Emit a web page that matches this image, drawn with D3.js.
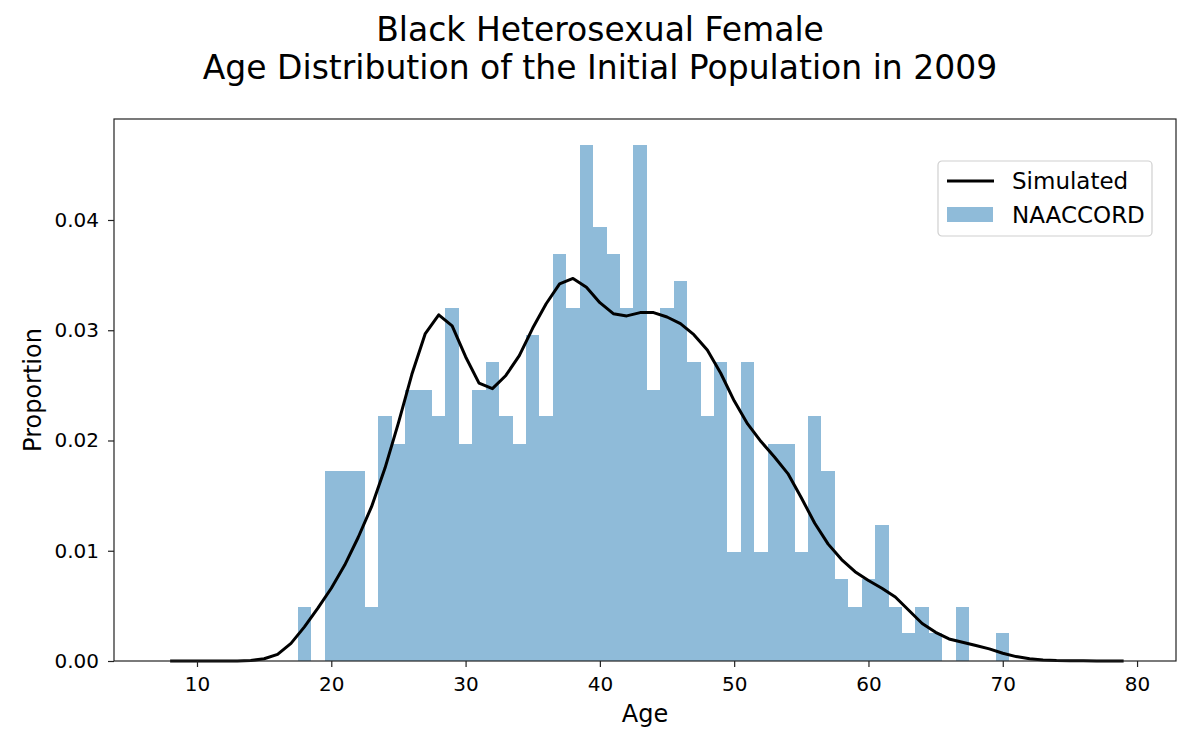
<!DOCTYPE html>
<html>
<head>
<meta charset="utf-8">
<title>Age Distribution</title>
<script src="https://cdn.jsdelivr.net/npm/d3@7"></script>
<style>
  body { margin: 0; background: #fff; }
  text { font-family: "DejaVu Sans", sans-serif; }
</style>
</head>
<body>
<script>
// NAACCORD histogram: bin centres (age) and proportion per 1-year bin
var binAges = [18, 19, 20, 21, 22, 23, 24, 25, 26, 27, 28, 29, 30, 31, 32, 33, 34, 35, 36, 37, 38, 39,
               40, 41, 42, 43, 44, 45, 46, 47, 48, 49, 50, 51, 52, 53, 54, 55, 56, 57, 58, 59,
               60, 61, 62, 63, 64, 65, 66, 67, 68, 69, 70];
var binProps = [0.0049, 0, 0.0172, 0.0172, 0.0172, 0.0049, 0.0222, 0.0197, 0.0246, 0.0246, 0.0222, 0.0320,
                0.0197, 0.0246, 0.0271, 0.0222, 0.0197, 0.0296, 0.0222, 0.0369, 0.0320, 0.0468,
                0.0394, 0.0369, 0.0320, 0.0468, 0.0246, 0.0320, 0.0345, 0.0271, 0.0222, 0.0271,
                0.0099, 0.0271, 0.0099, 0.0197, 0.0197, 0.0099, 0.0222, 0.0172, 0.0074, 0.0049,
                0.0074, 0.0123, 0.0049, 0.0025, 0.0049, 0.0025, 0, 0.0049, 0, 0, 0.0025];

// Simulated curve
var simAges = [8, 9, 10, 11, 12, 13, 14, 15, 16, 17, 18, 19, 20, 21, 22, 23, 24, 25, 26, 27, 28, 29,
               30, 31, 32, 33, 34, 35, 36, 37, 38, 39, 40, 41, 42, 43, 44, 45, 46, 47, 48, 49,
               50, 51, 52, 53, 54, 55, 56, 57, 58, 59, 60, 61, 62, 63, 64, 65, 66, 67, 68, 69,
               70, 71, 72, 73, 74, 75, 76, 77, 78, 79];
var simProps = [0, 0, 0, 0, 0, 0.00001, 0.00004, 0.0002, 0.0006, 0.0016, 0.0031, 0.0048, 0.0066, 0.0087,
                0.0112, 0.0140, 0.0175, 0.0216, 0.0260, 0.0297, 0.0314, 0.0304, 0.0276, 0.0252, 0.0247,
                0.0259, 0.0277, 0.0302, 0.0324, 0.0342, 0.0347, 0.0339, 0.0325, 0.0315, 0.0313,
                0.0316, 0.0316, 0.0312, 0.0306, 0.0296, 0.0282, 0.0261, 0.0236, 0.0215, 0.0199,
                0.0185, 0.0170, 0.0148, 0.0125, 0.0106, 0.0092, 0.0081, 0.0073, 0.0066, 0.0058,
                0.0046, 0.0034, 0.0026, 0.0020, 0.0017, 0.0014, 0.0011, 0.0007, 0.0004, 0.0002,
                0.0001, 0.00005, 0.00003, 0.00002, 0.00001, 0, 0];

var xTicks = [10, 20, 30, 40, 50, 60, 70, 80];
var yTicks = [0, 0.01, 0.02, 0.03, 0.04];

var W = 1200, H = 750;
var pLeft = 114, pRight = 1176, pTop = 119, pBottom = 661;

var svg = d3.select("body").append("svg")
    .attr("width", W)
    .attr("height", H);

var x = d3.scaleLinear().domain([3.82, 82.9]).range([pLeft, pRight]);
var y = d3.scaleLinear().domain([0, 0.04916]).range([pBottom, pTop]);

// bars
svg.selectAll(".bar")
    .data(binAges.map(function(a, i) { return {age: a, v: binProps[i]}; }))
    .enter().append("rect")
    .attr("class", "bar")
    .attr("x", function(d) { return x(d.age - 0.5); })
    .attr("width", function(d) { return x(d.age + 0.5) - x(d.age - 0.5); })
    .attr("y", function(d) { return y(d.v); })
    .attr("height", function(d) { return pBottom - y(d.v); })
    .attr("fill", "#1f77b4")
    .attr("fill-opacity", 0.5)
    .attr("shape-rendering", "crispEdges");

// simulated line
var line = d3.line()
    .x(function(d) { return x(d[0]); })
    .y(function(d) { return y(d[1]); });

svg.append("path")
    .datum(simAges.map(function(a, i) { return [a, simProps[i]]; }))
    .attr("d", line)
    .attr("fill", "none")
    .attr("stroke", "#000")
    .attr("stroke-width", 3)
    .attr("stroke-linejoin", "round");

// axes
var xAxis = d3.axisBottom(x).tickValues(xTicks).tickSize(6).tickPadding(10);
var yAxis = d3.axisLeft(y).tickValues(yTicks).tickSize(6).tickPadding(9)
    .tickFormat(d3.format(".2f"));

var gx = svg.append("g").attr("transform", "translate(0," + pBottom + ")").call(xAxis);
var gy = svg.append("g").attr("transform", "translate(" + pLeft + ",0)").call(yAxis);
[gx, gy].forEach(function(g) {
  g.select(".domain").remove();
  g.selectAll("line").attr("stroke", "#222").attr("stroke-width", 1.2);
  g.selectAll("text").attr("font-size", 20).attr("fill", "#000")
      .style("font-family", "DejaVu Sans");
});

// frame
svg.append("rect")
    .attr("x", pLeft).attr("y", pTop)
    .attr("width", pRight - pLeft).attr("height", pBottom - pTop)
    .attr("fill", "none").attr("stroke", "#222").attr("stroke-width", 1.2);

// labels
svg.append("text").attr("x", (pLeft + pRight) / 2).attr("y", 722)
    .attr("text-anchor", "middle").attr("font-size", 24).text("Age");
svg.append("text")
    .attr("transform", "translate(41," + (pTop + pBottom) / 2 + ") rotate(-90)")
    .attr("text-anchor", "middle").attr("font-size", 24).text("Proportion");

svg.append("text").attr("x", 600).attr("y", 41)
    .attr("text-anchor", "middle").attr("font-size", 33).text("Black Heterosexual Female");
svg.append("text").attr("x", 600).attr("y", 79)
    .attr("text-anchor", "middle").attr("font-size", 33).text("Age Distribution of the Initial Population in 2009");

// legend
var lg = svg.append("g").attr("transform", "translate(938,161)");
lg.append("rect").attr("width", 214).attr("height", 75).attr("rx", 4)
    .attr("fill", "#fff").attr("fill-opacity", 0.8)
    .attr("stroke", "#d0d0d0").attr("stroke-width", 1.2);
lg.append("line").attr("x1", 9).attr("x2", 56).attr("y1", 20).attr("y2", 20)
    .attr("stroke", "#000").attr("stroke-width", 3);
lg.append("rect").attr("x", 9).attr("y", 46).attr("width", 46).attr("height", 15)
    .attr("fill", "#1f77b4").attr("fill-opacity", 0.5);
lg.append("text").attr("x", 74).attr("y", 28).attr("font-size", 23).text("Simulated");
lg.append("text").attr("x", 74).attr("y", 62).attr("font-size", 23).text("NAACCORD");
</script>
</body>
</html>
